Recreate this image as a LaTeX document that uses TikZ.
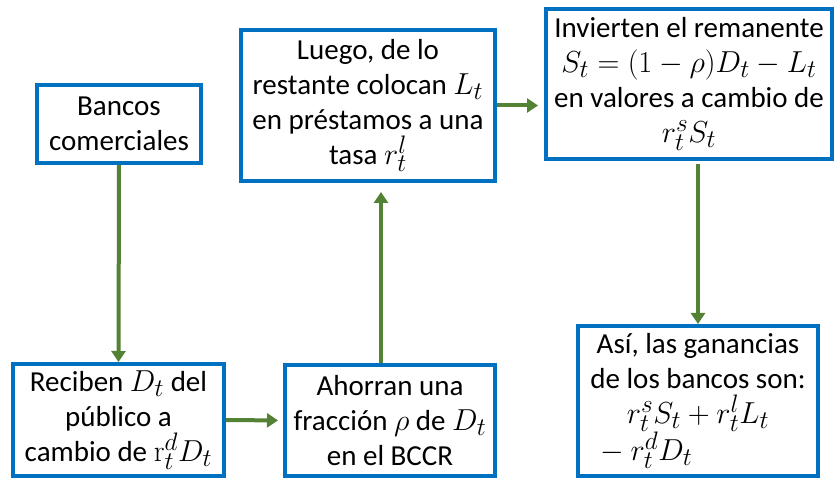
\documentclass[tikz,border=0pt]{standalone}
\usepackage[no-math]{fontspec}
\setmainfont{Carlito}
\usepackage{graphicx}
\usetikzlibrary{arrows.meta}
\definecolor{boxblue}{HTML}{0070C0}
\definecolor{arrgreen}{HTML}{548235}
\newcommand{\mth}[1]{\scalebox{1.22}{$#1$}}
\tikzset{
  box/.style={draw=boxblue, line width=4pt, fill=white, inner sep=0pt, align=center,
    font=\fontsize{29}{35}\selectfont},
  flow/.style={draw=arrgreen, line width=4pt, -{Triangle[length=11pt,width=14pt]}}
}
\begin{document}
\begin{tikzpicture}[x=1pt,y=1pt]
\useasboundingbox (0,0) rectangle (835,479);
\node[box, minimum width=164pt, minimum height=78pt] (bancos) at (119,355) {Bancos\\comerciales};
\node[box, minimum width=254pt, minimum height=151pt] (luego) at (368,373.5) {Luego, de lo\\restante colocan \mth{L_t}\\en préstamos a una\\tasa \mth{r_t^l}};
\node[box, minimum width=286pt, minimum height=150pt] (inv) at (689,395) {Invierten el remanente\\\mth{S_t=(1-\rho)D_t-L_t}\\en valores a cambio de\\\mth{r_t^s S_t}};
\node[box, minimum width=211pt, minimum height=112pt] (rec) at (118.5,59) {Reciben \mth{D_t} del\\público a\\cambio de \mth{\mathrm{r}_t^d D_t}};
\node[box, minimum width=210pt, minimum height=111pt] (aho) at (390,58.5) {Ahorran una\\fracción \mth{\rho} de \mth{D_t}\\en el BCCR};
\node[box, minimum width=240pt, minimum height=150pt] (asi) at (698,78) {Así, las ganancias\\de los bancos son:\\\mth{r_t^s S_t + r_t^l L_t}\\\hspace*{-110pt}\mth{{}-r_t^d D_t}};
\draw[flow] (bancos.south) -- (rec.north);
\draw[flow, shorten >=5pt] (rec.east) -- (aho.west);
\draw[flow, shorten >=9pt] ([xshift=-9pt]aho.north) -- ([xshift=-9pt]aho.north |- luego.south);
\draw[flow, shorten >=6pt] (luego.east) -- (luego.east -| inv.west);
\draw[flow, shorten <=3pt] (inv.south -| asi.north) -- (asi.north);
\end{tikzpicture}
\end{document}
